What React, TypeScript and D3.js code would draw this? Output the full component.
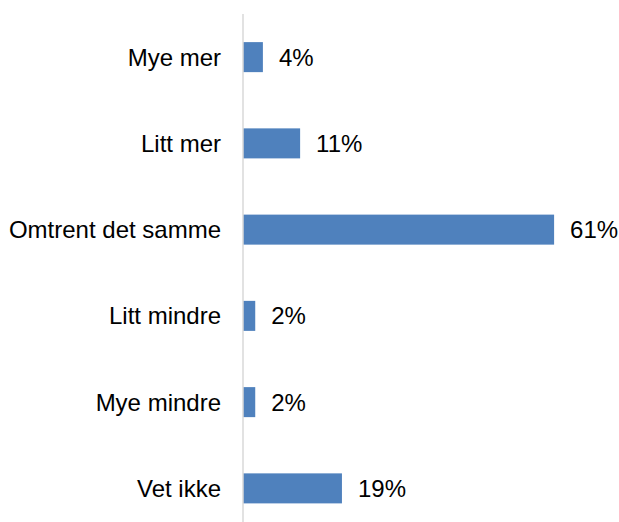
import React from "react";
import * as d3 from "d3";

const categories = ["Mye mer", "Litt mer", "Omtrent det samme", "Litt mindre", "Mye mindre", "Vet ikke"];
const values = [3.9, 11.2, 61.0, 2.4, 2.4, 19.4];

const W = 619;
const H = 522;

export default function App() {
  const x = d3.scaleLinear().domain([0, 70]).range([243, 243 + 70 * 5.1]);
  const y = d3
    .scaleBand<string>()
    .domain(categories)
    .range([14, 531.5])
    .paddingInner(0.652)
    .paddingOuter(0.326);

  const font = "'Liberation Sans', Arial, sans-serif";

  return (
    <svg
      width={W}
      height={H}
      style={{ position: "absolute", left: 0, top: 0, background: "#fff" }}
    >
      {categories.map((c, i) => {
        const yc = (y(c) as number) + y.bandwidth() / 2;
        return (
          <g key={c}>
            <rect
              x={x(0)}
              y={y(c)}
              width={x(values[i]) - x(0)}
              height={y.bandwidth()}
              fill="#4F81BD"
            />
            <text
              x={221}
              y={yc}
              dy="0.35em"
              textAnchor="end"
              fontFamily={font}
              fontSize={24}
              fill="#000"
            >
              {c}
            </text>
            <text
              x={x(values[i]) + 16}
              y={yc}
              dy="0.35em"
              textAnchor="start"
              fontFamily={font}
              fontSize={24}
              fill="#000"
            >
              {Math.round(values[i])}%
            </text>
          </g>
        );
      })}
      <line x1={x(0)} x2={x(0)} y1={14} y2={H} stroke="#D9D9D9" strokeWidth={1.5} />
    </svg>
  );
}
